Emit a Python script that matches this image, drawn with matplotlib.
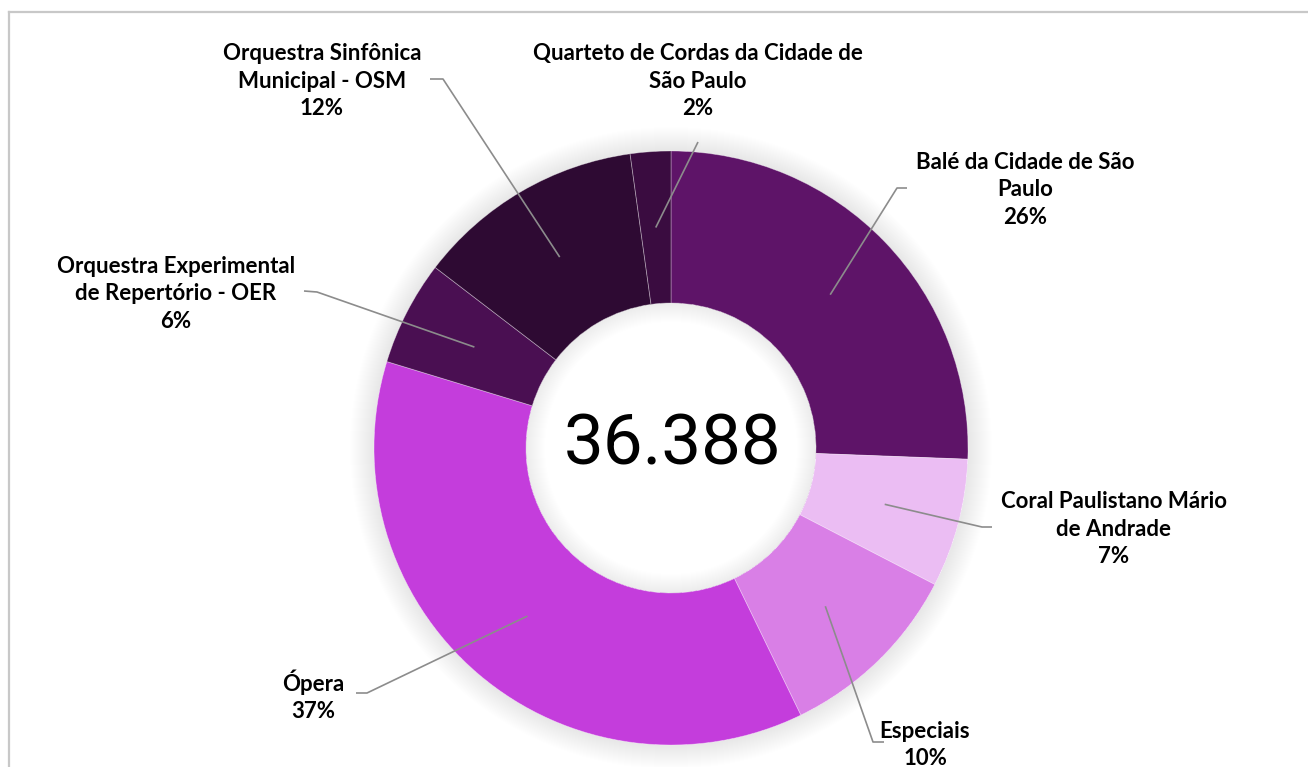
import matplotlib
matplotlib.use("Agg")
import matplotlib.pyplot as plt
from matplotlib.patches import Wedge
import numpy as np

# ---- data ----
categories = ["Balé da Cidade de São Paulo", "Coral Paulistano Mário de Andrade", "Especiais",
              "Ópera", "Orquestra Experimental de Repertório - OER",
              "Orquestra Sinfônica Municipal - OSM", "Quarteto de Cordas da Cidade de São Paulo"]
label_lines = ["Balé da Cidade de São\nPaulo", "Coral Paulistano Mário\nde Andrade", "Especiais",
               "Ópera", "Orquestra Experimental\nde Repertório - OER",
               "Orquestra Sinfônica\nMunicipal - OSM", "Quarteto de Cordas da Cidade de\nSão Paulo"]
shares = [25.6, 7.0, 10.2, 36.9, 5.7, 12.4, 2.2]
total_label = "36.388"
colors = ["#5E1468", "#EBBDF3", "#D97FE6", "#C43DDC", "#4A0F52", "#2E0A33", "#3A0C40"]

W, H = 1308, 767
fig = plt.figure(figsize=(W / 100, H / 100), dpi=100)
ax = fig.add_axes([0, 0, 1, 1])

def Y(y):
    return H - y

cx, cy = 671, Y(448)
R, r = 297, 145

# outer soft shadow
n = 24
for k in range(1, n + 1):
    ax.add_patch(Wedge((cx, cy), R + k, 0, 360, width=k, facecolor="black",
                       alpha=0.0055, edgecolor="none", zorder=1))

wedges, _ = ax.pie(shares, colors=colors, startangle=90, counterclock=False,
                   radius=R, center=(cx, cy),
                   wedgeprops=dict(width=R - r, edgecolor=(1, 1, 1, 0.35), linewidth=0.6))
for w in wedges:
    w.set_zorder(2)

# inner soft shadow
for k in range(1, 20):
    ax.add_patch(Wedge((cx, cy), r, 0, 360, width=k, facecolor="black",
                       alpha=0.0055, edgecolor="none", zorder=3))

ax.text(cx + 2, Y(445), total_label, ha="center", va="center", fontsize=51,
        family="Roboto", color="black", zorder=5)

# labels: (text center x, y), elbow, end
label_pos = [(1025, 190), (1114, 529), (925, 745), (313, 696), (176, 294), (322, 81), (698, 81)]
elbows = [(897, 188), (982, 527), (873, 742), (367, 693), (317, 292), (443, 79), (698, 142)]
ends = [(907, 188), (992, 527), (884, 742), (356, 693), (304, 291), (430, 79), (698, 142)]

rm = (R + r) / 2
for w, txt, val, lp, el, en in zip(wedges, label_lines, shares, label_pos, elbows, ends):
    ang = np.deg2rad((w.theta1 + w.theta2) / 2)
    sx, sy = cx + rm * np.cos(ang), cy + rm * np.sin(ang)
    ax.plot([sx, el[0], en[0]], [sy, Y(el[1]), Y(en[1])], color="#8C8C8C", lw=1.2,
            solid_capstyle="butt", zorder=4)
    ax.text(lp[0], Y(lp[1]), f"{txt}\n{round(val):d}%", ha="center", va="center",
            multialignment="center", fontsize=16, fontweight="bold", family="Lato",
            color="black", linespacing=1.38, zorder=5)

# frame (top and left edges visible)
ax.plot([9, W], [Y(12), Y(12)], color="#C8C8C8", lw=1.6, zorder=0)
ax.plot([9, 9], [Y(12), 0], color="#C8C8C8", lw=1.6, zorder=0)

ax.set_xlim(0, W)
ax.set_ylim(0, H)
ax.set_aspect("equal")
ax.axis("off")
fig.savefig("out.png", dpi=100)
